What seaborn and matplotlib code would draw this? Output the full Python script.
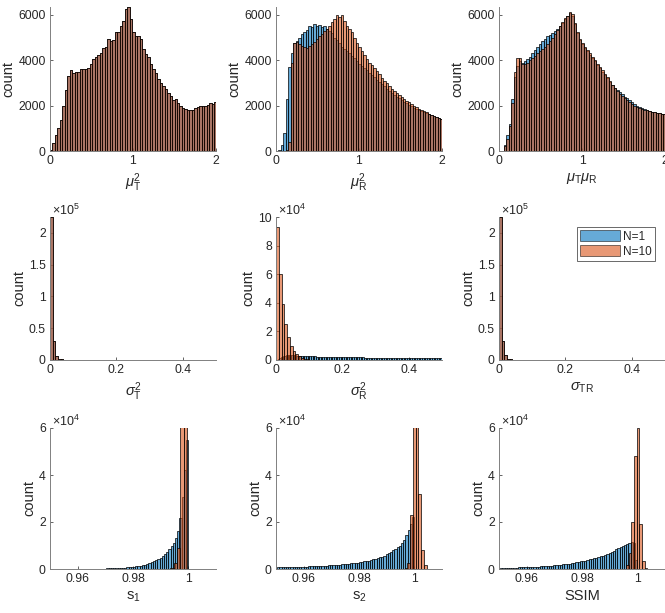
import numpy as np
import pandas as pd
import matplotlib
matplotlib.use("Agg")
import matplotlib.pyplot as plt
import seaborn as sns
from matplotlib.patches import Patch

# ---- data (counts per bin) ----
# row 1: bins of 0.03 from 0 to 2.01
mu_t2_n1 = [60, 340, 710, 1000, 1350, 2000, 2700, 3300, 3550, 3450, 3480, 3500, 3630, 3600, 3630, 3670,
            3820, 4040, 4160, 4220, 4340, 4560, 4600, 4930, 4860, 4900, 5230, 5260, 5530, 5750, 6270, 6340,
            5820, 5230, 5080, 5050, 4930, 4490, 4270, 4160, 3820, 3600, 3450, 3190, 3010, 2860, 2740, 2560,
            2410, 2270, 2300, 2120, 1970, 1900, 1850, 1820, 1790, 1820, 1900, 1940, 2000, 1970, 2000, 2040,
            2120, 2090, 2150]
mu_t2_n10 = mu_t2_n1

mu_r2_n1 = [0, 50, 250, 800, 2300, 3700, 4300, 4750, 4850, 5000, 5150, 5250, 5350, 5500, 5450, 5600,
            5500, 5550, 5450, 5500, 5400, 5300, 5200, 5000, 4900, 4750, 4600, 4500, 4400, 4300, 4200, 4100,
            3950, 3850, 3750, 3650, 3550, 3450, 3350, 3250, 3150, 3050, 2950, 2850, 2750, 2650, 2560, 2480,
            2400, 2320, 2250, 2180, 2100, 2040, 1980, 1900, 1850, 1800, 1750, 1700, 1660, 1620, 1580, 1540,
            1500, 1460, 1420]
mu_r2_n10 = [0, 0, 0, 0, 30, 400, 3900, 4750, 4800, 4700, 4650, 4600, 4560, 4620, 4700, 4800,
             4930, 5050, 5160, 5270, 5380, 5500, 5670, 5800, 6000, 5900, 5980, 5750, 5530, 5380, 5230, 5000,
             4750, 4600, 4400, 4250, 4050, 3900, 3780, 3650, 3520, 3380, 3240, 3100, 3000, 2850, 2750, 2650,
             2550, 2460, 2380, 2300, 2220, 2150, 2080, 2000, 1940, 1870, 1810, 1750, 1700, 1650, 1600, 1550,
             1510, 1470, 1430]

mu_tr_n1 = [0, 0, 250, 700, 1200, 2300, 3250, 3750, 3950, 3900, 3950, 4050, 4150, 4300, 4450, 4600,
            4700, 4850, 4950, 5050, 5100, 5200, 5300, 5400, 5500, 5650, 5800, 5950, 6100, 5950, 5600, 5200,
            4900, 4700, 4550, 4400, 4250, 4100, 3950, 3800, 3650, 3500, 3350, 3200, 3050, 2900, 2800, 2700,
            2600, 2500, 2400, 2320, 2230, 2150, 2080, 2000, 1930, 1880, 1840, 1800, 1760, 1730, 1700, 1680,
            1660, 1650, 1640]
mu_tr_n10 = [0, 0, 200, 550, 1100, 2100, 3500, 4100, 4100, 3850, 3850, 3900, 4000, 4100, 4200, 4300,
             4400, 4500, 4600, 4700, 4850, 5000, 5150, 5350, 5500, 5700, 5850, 5950, 6150, 6050, 5650, 5250,
             4950, 4750, 4600, 4450, 4300, 4150, 4000, 3850, 3700, 3550, 3400, 3250, 3080, 2920, 2780, 2650,
             2530, 2420, 2320, 2230, 2140, 2060, 2000, 1940, 1880, 1850, 1820, 1790, 1760, 1730, 1700, 1680,
             1660, 1650, 1640]

# row 2
sig_t2_n1 = [225000, 30000, 7000, 2200, 900, 350, 120, 50]
sig_t2_n10 = sig_t2_n1
sig_tr_n1 = [225000, 30500, 7200, 2300, 900, 350, 120, 50]
sig_tr_n10 = sig_tr_n1

sig_r2_n1 = [300, 900, 1600, 2200, 2700, 3000, 3200, 3300, 3300, 3300,
             3250, 3150, 3050, 2950, 2900, 2850, 2800, 2750, 2700, 2650,
             2600, 2560, 2520, 2480, 2440, 2400, 2370, 2340, 2310, 2280,
             2250, 2220, 2190, 2160, 2130, 2100, 2080, 2060, 2040, 2020,
             2000, 1980, 1960, 1940, 1920, 1900, 1880, 1860, 1840, 1820,
             1800, 1780, 1760, 1740, 1720, 1700, 1690, 1680, 1670, 1660,
             1650, 1630, 1610, 1590, 1570, 1550, 1540, 1530, 1520, 1510,
             1500, 1480, 1460, 1440, 1420, 1400, 1390, 1380, 1370, 1360,
             1350, 1340, 1330, 1320, 1310, 1300, 1290, 1280, 1270, 1260,
             1250, 1240, 1230, 1220, 1210, 1200, 1190, 1180, 1170, 1160]
sig_r2_n10 = [93000, 60000, 39500, 25000, 16000, 10000, 6500, 4000, 2500, 1500, 900, 500, 300, 150, 80]

# row 3: N=1 in bins of 0.0008 from 0.9504 to 1.0
s1_n1 = [20, 25, 25, 30, 30, 35, 40, 40, 45, 50, 55, 60, 65, 70, 80, 85,
         95, 105, 115, 125, 140, 155, 170, 190, 210, 235, 260, 290, 320, 360, 400, 450,
         510, 580, 660, 750, 860, 980, 1120, 1280, 1460, 1670, 1900, 2170, 2480, 2830, 3230, 3700,
         4220, 4820, 5500, 6300, 7200, 8300, 9600, 11200, 13200, 16300, 21500, 30500, 42000, 55000]
s1_n10 = [50, 150, 600, 2500, 9000, 100000, 150000]

s2_n1 = [700, 720, 740, 760, 780, 800, 820, 850, 880, 910, 940, 970, 1000, 1040, 1080, 1120,
         1160, 1200, 1250, 1300, 1350, 1400, 1460, 1520, 1580, 1650, 1720, 1800, 1880, 1960, 2050, 2150,
         2250, 2360, 2470, 2600, 2740, 2880, 3040, 3210, 3400, 3600, 3820, 4060, 4320, 4600, 4900, 5230,
         5600, 6300, 6800, 7300, 7900, 8500, 9200, 10000, 11200, 12500, 14500, 16500, 19000, 22000]
s2_n10 = [300, 2500, 23000, 120000, 110000, 32000, 8000, 1500, 200]

ssim_n1 = [450, 470, 490, 510, 530, 560, 590, 620, 650, 680, 720, 760, 800, 840, 890, 940,
           990, 1040, 1100, 1160, 1230, 1300, 1380, 1460, 1550, 1640, 1740, 1840, 1950, 2070, 2200, 2340,
           2500, 2660, 2830, 3010, 3200, 3400, 3610, 3830, 4060, 4300, 4550, 4810, 5080, 5360, 5650, 6000,
           6300, 6650, 7300, 7800, 8300, 8800, 9400, 9900, 10400, 10800, 11200, 11500, 11000, 4000]
ssim_n10 = [1500, 7000, 20000, 48000, 60000, 19000, 3500, 500]

series_labels = ["N=1", "N=10"]

# ---- bin layout (start, width) per panel and series ----
panels = [
    # (n1 data, n1 bins, n10 data, n10 bins, xlabel, xlim, xticks, xticklabels, ymax, yticks, exponent)
    (mu_t2_n1, (0.0, 0.03), mu_t2_n10, (0.0, 0.03), r"$\mu_\mathrm{T}^2$",
     (0, 2), [0, 1, 2], ["0", "1", "2"], 6350, [0, 2000, 4000, 6000], None),
    (mu_r2_n1, (0.0, 0.03), mu_r2_n10, (0.0, 0.03), r"$\mu_\mathrm{R}^2$",
     (0, 2), [0, 1, 2], ["0", "1", "2"], 6350, [0, 2000, 4000, 6000], None),
    (mu_tr_n1, (0.0, 0.03), mu_tr_n10, (0.0, 0.03), r"$\mu_\mathrm{T}\mu_\mathrm{R}$",
     (0, 2), [0, 1, 2], ["0", "1", "2"], 6350, [0, 2000, 4000, 6000], None),
    (sig_t2_n1, (0.0, 0.008), sig_t2_n10, (0.0, 0.008), r"$\sigma_\mathrm{T}^2$",
     (0, 0.5), [0, 0.2, 0.4], ["0", "0.2", "0.4"], 2.25e5, [0, 0.5e5, 1e5, 1.5e5, 2e5], 5),
    (sig_r2_n1, (0.0, 0.005), sig_r2_n10, (0.0, 0.0083), r"$\sigma_\mathrm{R}^2$",
     (0, 0.5), [0, 0.2, 0.4], ["0", "0.2", "0.4"], 1e5, [0, 2e4, 4e4, 6e4, 8e4, 1e5], 4),
    (sig_tr_n1, (0.0, 0.008), sig_tr_n10, (0.0, 0.008), r"$\sigma_\mathrm{TR}$",
     (0, 0.5), [0, 0.2, 0.4], ["0", "0.2", "0.4"], 2.25e5, [0, 0.5e5, 1e5, 1.5e5, 2e5], 5),
    (s1_n1, (0.9504, 0.0008), s1_n10, (0.9911, 0.0012), r"$\mathrm{s}_1$",
     (0.95, 1.01), [0.96, 0.98, 1.0], ["0.96", "0.98", "1"], 6e4, [0, 2e4, 4e4, 6e4], 4),
    (s2_n1, (0.9504, 0.0008), s2_n10, (0.9965, 0.001), r"$\mathrm{s}_2$",
     (0.95, 1.01), [0.96, 0.98, 1.0], ["0.96", "0.98", "1"], 6e4, [0, 2e4, 4e4, 6e4], 4),
    (ssim_n1, (0.9504, 0.0008), ssim_n10, (0.99595, 0.00095), "SSIM",
     (0.95, 1.01), [0.96, 0.98, 1.0], ["0.96", "0.98", "1"], 6e4, [0, 2e4, 4e4, 6e4], 4),
]

sns.set_theme(style="ticks")
plt.rcParams["font.family"] = ["Liberation Sans", "DejaVu Sans"]
plt.rcParams["mathtext.fontset"] = "custom"
plt.rcParams["mathtext.rm"] = "Liberation Sans"
plt.rcParams["mathtext.it"] = "Liberation Sans:italic"
plt.rcParams["mathtext.bf"] = "Liberation Sans:bold"

blue = "#0072BD"
orange = "#D95319"
dark = "#262626"

W, H = 665, 613
fig = plt.figure(figsize=(W / 100, H / 100), dpi=100)

col_left = [50, 276, 499]
row_box = [(7, 151), (217, 360), (428, 569)]
ax_w = 166


def draw_hist(ax, counts, binspec, color, label):
    start, width = binspec
    n = len(counts)
    edges = (start + width * np.arange(n + 1)).tolist()
    df = pd.DataFrame({"x": start + width * (np.arange(n) + 0.5), "w": np.asarray(counts, float)})
    sns.histplot(data=df, x="x", weights="w", bins=edges, ax=ax, color=color, alpha=0.6,
                 edgecolor="black", linewidth=0.5, label=label)


for i, p in enumerate(panels):
    (d1, b1, d10, b10, xlabel, xlim, xticks, xticklabels, ymax, yticks, expo) = p
    r, c = divmod(i, 3)
    top, bot = row_box[r]
    ax = fig.add_axes([col_left[c] / W, 1 - bot / H, ax_w / W, (bot - top) / H])
    draw_hist(ax, d1, b1, blue, series_labels[0])
    draw_hist(ax, d10, b10, orange, series_labels[1])
    ax.set_xlim(*xlim)
    ax.set_ylim(0, ymax)
    ax.set_xticks(xticks)
    ax.set_xticklabels(xticklabels)
    ax.set_yticks(yticks)
    if expo is None:
        ax.set_yticklabels([str(int(t)) for t in yticks])
    else:
        ax.set_yticklabels(["%g" % (t / 10 ** expo) for t in yticks])
        ax.text(0.01, 0.99, r"$\times 10^{%d}$" % expo, transform=ax.transAxes,
                ha="left", va="bottom", fontsize=9, color=dark)
    ax.set_xlabel(xlabel, fontsize=10.5, color=dark, labelpad=3)
    ax.set_ylabel("count", fontsize=10.5, color=dark, labelpad=2)
    ax.tick_params(direction="in", length=2.5, width=0.5, labelsize=8.8, colors=dark, pad=3)
    sns.despine(ax=ax)
    for s in ["left", "bottom"]:
        ax.spines[s].set_color("#808080")
        ax.spines[s].set_linewidth(0.7)

    if i == 5:
        handles = [Patch(facecolor=blue, alpha=0.6, edgecolor="black", linewidth=0.6),
                   Patch(facecolor=orange, alpha=0.6, edgecolor="black", linewidth=0.6)]
        leg = ax.legend(handles, series_labels, loc="upper left", bbox_to_anchor=(0.47, 0.93),
                        fontsize=8.5, frameon=True, fancybox=False, borderpad=0.25,
                        handlelength=3.4, handleheight=1.1, handletextpad=0.25,
                        labelspacing=0.2, borderaxespad=0)
        leg.get_frame().set_edgecolor("#262626")
        leg.get_frame().set_linewidth(0.6)

fig.savefig("out.png", dpi=100)
